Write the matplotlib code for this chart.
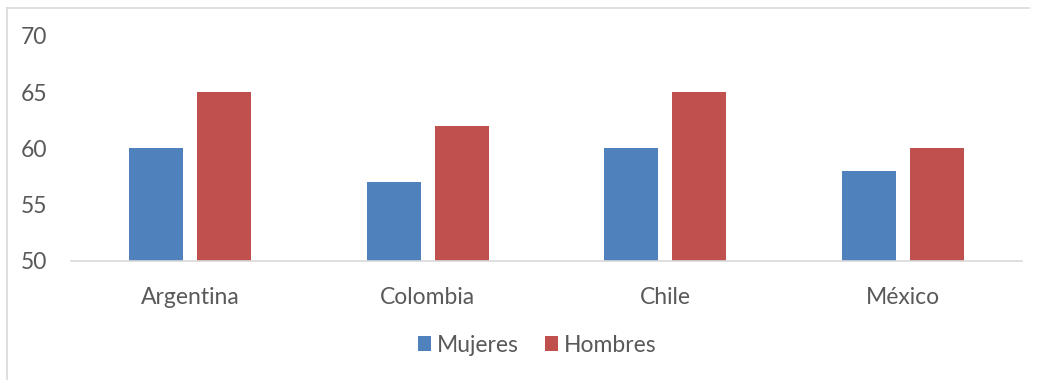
import matplotlib.pyplot as plt
import numpy as np
from matplotlib.lines import Line2D

paises = ['Argentina', 'Colombia', 'Chile', 'México']
mujeres = [60, 57, 60, 58]
hombres = [65, 62, 65, 60]

azul = '#4F81BD'
rojo = '#C0504D'
gris = '#595959'

plt.rcParams['font.family'] = ['Lato', 'DejaVu Sans']

fig = plt.figure(figsize=(10.39, 3.8), dpi=100)
ax = fig.add_axes([0.0683, 0.3132, 0.9153, 0.5921])

x = np.arange(len(paises))
w = 0.227
sep = 0.059
ax.bar(x - (w + sep) / 2, mujeres, w, color=azul, label='Mujeres')
ax.bar(x + (w + sep) / 2, hombres, w, color=rojo, label='Hombres')

ax.set_ylim(50, 70)
ax.set_xlim(-0.5, len(paises) - 0.5)
ax.set_yticks([50, 55, 60, 65, 70])
ax.set_xticks(x)
ax.set_xticklabels(paises)
ax.tick_params(axis='both', length=0, labelsize=16.5, colors=gris)
ax.tick_params(axis='y', pad=17)
ax.tick_params(axis='x', pad=19)

for s in ['top', 'right', 'left']:
    ax.spines[s].set_visible(False)
ax.spines['bottom'].set_color('#D9D9D9')
ax.spines['bottom'].set_linewidth(1.2)

leg = fig.legend(loc='center', bbox_to_anchor=(0.517, 0.092), ncol=2, frameon=False,
                 fontsize=16.5, handlelength=0.6, handleheight=0.6, handletextpad=0.25,
                 columnspacing=1.12)
for t in leg.get_texts():
    t.set_color(gris)

# borde del grafico
fig.add_artist(Line2D([7 / 1039, 1029 / 1039], [1 - 8 / 380, 1 - 8 / 380], color='#D9D9D9', lw=1.2))
fig.add_artist(Line2D([7 / 1039, 7 / 1039], [1 - 8 / 380, 0], color='#D9D9D9', lw=1.2))

fig.savefig('out.png', dpi=100)
